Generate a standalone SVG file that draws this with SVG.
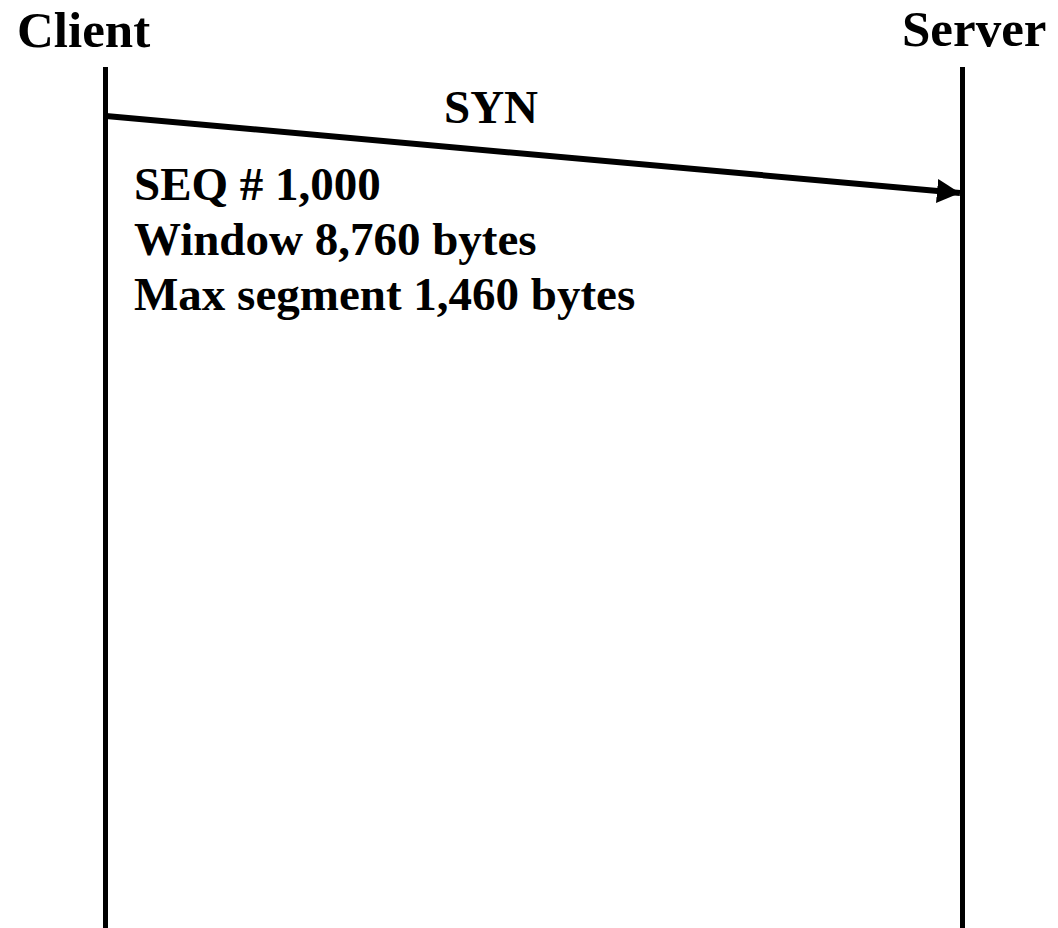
<svg xmlns="http://www.w3.org/2000/svg" width="1058" height="928" viewBox="0 0 1058 928">
<style>
text{font-family:"Liberation Serif","Times New Roman",serif;font-weight:bold;fill:#000}
.h{font-size:51px}
.t{font-size:47px}
.life{stroke:#000;stroke-width:5;fill:none}
.msg{stroke:#000;stroke-width:6;fill:none}
</style>
<defs>
<marker id="ah" markerUnits="userSpaceOnUse" markerWidth="24" markerHeight="24" refX="23" refY="12" orient="auto">
<path d="M0,0 L23,12 L0,24 Z" fill="#000"/>
</marker>
</defs>
<rect width="1058" height="928" fill="#fff"/>
<g id="client">
<text class="h" x="17" y="47">Client</text>
<line class="life" x1="105.5" y1="67" x2="105.5" y2="928"/>
</g>
<g id="server">
<text class="h" x="902" y="46">Server</text>
<line class="life" x1="962.5" y1="67" x2="962.5" y2="928"/>
</g>
<g id="connectors">
<line class="msg" x1="106" y1="116" x2="960" y2="193" marker-end="url(#ah)"/>
<text class="t" x="444" y="123">SYN</text>
</g>
<g id="details">
<text class="t" x="134" y="200">SEQ # 1,000</text>
<text class="t" x="134" y="255">Window 8,760 bytes</text>
<text class="t" x="134" y="310">Max segment 1,460 bytes</text>
</g>
</svg>
